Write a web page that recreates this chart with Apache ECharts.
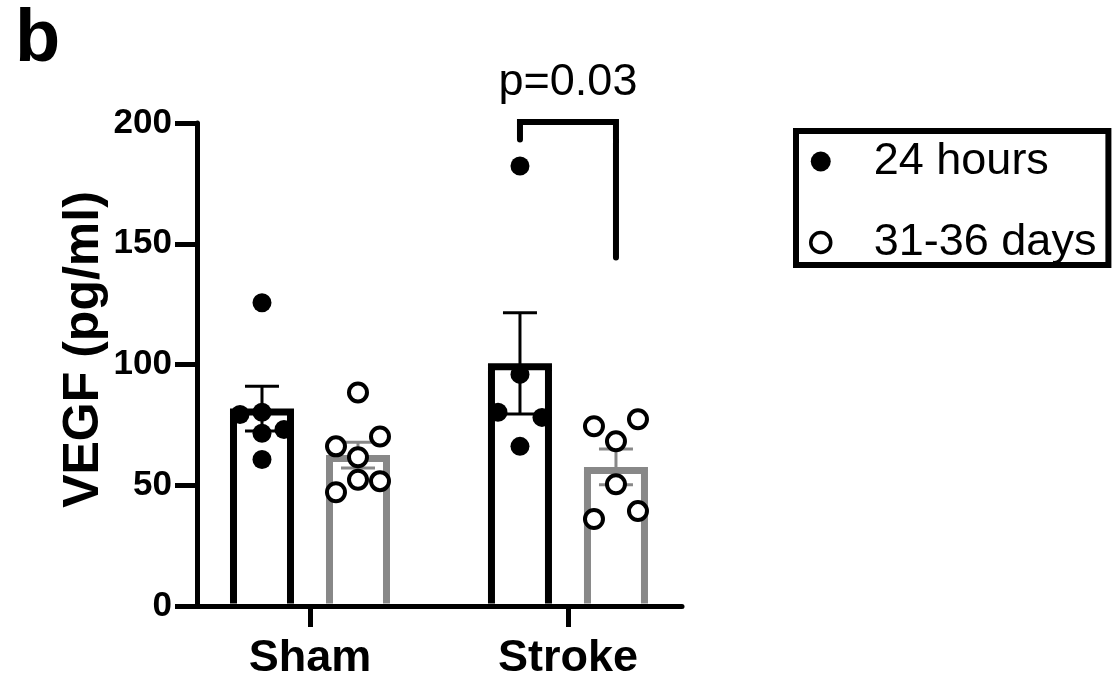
<!DOCTYPE html>
<html>
<head>
<meta charset="utf-8">
<script src="https://cdn.jsdelivr.net/npm/echarts@6/dist/echarts.min.js"></script>
<style>
  html, body { margin: 0; padding: 0; background: #ffffff; }
  #chart { width: 1113px; height: 681px; }
</style>
</head>
<body>
<div id="chart"></div>
<script>
// ---- data -------------------------------------------------------------
const groups = ['Sham', 'Stroke'];
const seriesNames = ['24 hours', '31-36 days'];
const yTicks = [0, 50, 100, 150, 200];

// individual VEGF measurements (pg/ml)
const sham24h   = [125.6, 73.1, 79.3, 80.2, 71.5, 60.7];
const sham31d   = [88.4, 70.2, 66.1, 61.6, 51.7, 47.1, 52.3];
const stroke24h = [182.2, 95.9, 78.1, 80.2, 66.1];
const stroke31d = [77.3, 74.4, 68.2, 50.4, 39.3, 36.0];

const pLabel = 'p=0.03';

// ---- layout -----------------------------------------------------------
const FONT = "'Liberation Sans', Arial, Helvetica, sans-serif";
const GRID = { left: 197, top: 123, width: 485, height: 484 };
const X_MIN = -0.438, X_MAX = 1.442;          // group 0 and 1 sit inside this span
const Y_MIN = yTicks[0], Y_MAX = yTicks[yTicks.length - 1];
const BAR_OFFSET = 48;     // px from group centre to each bar centre
const BAR_OUTER = 64;      // outer bar width, px
const BAR_STROKE = 7;
const ERR_W = 3, CAP = 34, AXIS_W = 5;
const SWARM_STEP = 22, SWARM_DIST = 20;
const COLORS = ['#000000', '#888888'];
// comparison bracket (pg/ml): left leg end, top, right leg end
const BRACKET = { left: 193.2, top: 200.4, right: 144.3 };

const unitPx = GRID.width / (X_MAX - X_MIN);
const pxPerY = GRID.height / (Y_MAX - Y_MIN);

const byseries = [[sham24h, stroke24h], [sham31d, stroke31d]];

const mean = a => a.reduce((s, v) => s + v, 0) / a.length;
const sem = a => {
  const m = mean(a);
  return Math.sqrt(a.reduce((s, v) => s + (v - m) * (v - m), 0) / (a.length - 1)) / Math.sqrt(a.length);
};

// Simple beeswarm: place points in order, spread sideways when they would overlap.
function swarm(values) {
  const placed = [];
  const clash = (dx, y, skip) => placed.filter(p => p !== skip && Math.hypot(p.dx - dx, p.y - y) < SWARM_DIST);
  values.forEach(v => {
    const y = v * pxPerY;
    const hits = clash(0, y);
    if (hits.length === 0) { placed.push({ dx: 0, y, v }); return; }
    if (hits.length === 1 && hits[0].dx === 0) {
      const other = hits[0];
      other.dx = SWARM_STEP;
      if (clash(SWARM_STEP, other.y, other).length === 0 && clash(-SWARM_STEP, y).length === 0) {
        placed.push({ dx: -SWARM_STEP, y, v });
        return;
      }
      other.dx = 0;
    }
    for (const dx of [-SWARM_STEP, SWARM_STEP, -2 * SWARM_STEP, 2 * SWARM_STEP]) {
      if (clash(dx, y).length === 0) { placed.push({ dx, y, v }); return; }
    }
    placed.push({ dx: 0, y, v });
  });
  return placed;
}

function barRenderer(s) {
  const side = s === 0 ? -1 : 1;
  const color = COLORS[s];
  return function (params, api) {
    const x = api.value(0), m = api.value(1), e = api.value(2);
    const base = api.coord([x, Y_MIN]);
    const cx = base[0] + side * BAR_OFFSET;
    const half = BAR_OUTER / 2 - BAR_STROKE / 2;
    const yTop = api.coord([x, m])[1] + BAR_STROKE / 2;
    const yBot = base[1] - AXIS_W / 2;
    const eHi = api.coord([x, m + e])[1];
    const eLo = api.coord([x, m - e])[1];
    const line = { stroke: color, lineWidth: ERR_W };
    return {
      type: 'group',
      children: [
        { type: 'rect', shape: { x: cx - half, y: yTop, width: 2 * half, height: yBot - yTop }, style: { fill: '#ffffff' } },
        { type: 'polyline', shape: { points: [[cx - half, yBot], [cx - half, yTop], [cx + half, yTop], [cx + half, yBot]] },
          style: { stroke: color, lineWidth: BAR_STROKE, fill: null, lineJoin: 'miter' } },
        { type: 'line', shape: { x1: cx, y1: eLo, x2: cx, y2: eHi }, style: line },
        { type: 'line', shape: { x1: cx - CAP / 2, y1: eHi, x2: cx + CAP / 2, y2: eHi }, style: line },
        { type: 'line', shape: { x1: cx - CAP / 2, y1: eLo, x2: cx + CAP / 2, y2: eLo }, style: line }
      ]
    };
  };
}

const series = [];
byseries.forEach((vals, s) => {
  series.push({
    name: seriesNames[s],
    type: 'custom',
    renderItem: barRenderer(s),
    clip: false,
    z: 2,
    silent: true,
    encode: { x: 0, y: 1 },
    data: groups.map((g, i) => [i, mean(vals[i]), sem(vals[i])])
  });
});
byseries.forEach((vals, s) => {
  const side = s === 0 ? -1 : 1;
  const pts = [];
  groups.forEach((g, i) => {
    swarm(vals[i]).forEach(p => pts.push([i + (side * BAR_OFFSET + p.dx) / unitPx, p.v]));
  });
  series.push({
    name: seriesNames[s],
    type: 'scatter',
    z: 3,
    symbol: 'circle',
    symbolSize: s === 0 ? 19 : 18,
    itemStyle: s === 0
      ? { color: '#000000', opacity: 1 }
      : { color: '#ffffff', borderColor: '#000000', borderWidth: 4, opacity: 1 },
    emphasis: { disabled: true },
    silent: true,
    data: pts
  });
});

// comparison bracket between the two Stroke bars
series.push({
  type: 'custom',
  z: 4,
  clip: false,
  silent: true,
  data: [[1, BRACKET.top]],
  renderItem: function (params, api) {
    const g = api.value(0);
    const cx = api.coord([g, Y_MIN])[0];
    const xl = cx - BAR_OFFSET, xr = cx + BAR_OFFSET;
    const yt = api.coord([g, BRACKET.top])[1];
    const yl = api.coord([g, BRACKET.left])[1];
    const yr = api.coord([g, BRACKET.right])[1];
    return {
      type: 'group',
      children: [
        { type: 'polyline', shape: { points: [[xl, yl], [xl, yt], [xr, yt], [xr, yr]] },
          style: { stroke: '#000000', lineWidth: 6, fill: null, lineCap: 'round', lineJoin: 'miter' } },
        { type: 'text', x: (xl + xr) / 2, y: yt - 39,
          style: { text: pLabel, fontFamily: FONT, fontSize: 45, fill: '#000000', align: 'center', verticalAlign: 'middle' } }
      ]
    };
  }
});

const chart = echarts.init(document.getElementById('chart'), null, { renderer: 'canvas' });
chart.setOption({
  animation: false,
  backgroundColor: '#ffffff',
  title: {
    text: 'b', left: 15, top: 4, padding: 0,
    textStyle: { fontFamily: FONT, fontSize: 74, fontWeight: 'bold', color: '#000000' }
  },
  legend: {
    orient: 'vertical',
    left: 796, top: 131,
    padding: [8, 12, 0, 13],
    itemGap: 36,
    itemWidth: 20, itemHeight: 20,
    selectedMode: false,
    borderColor: '#000000', borderWidth: 6,
    textStyle: { fontFamily: FONT, fontSize: 45, lineHeight: 40, color: '#000000', padding: [0, 0, 5, 38] },
    data: [
      { name: seriesNames[0], icon: 'circle', itemStyle: { color: '#000000', borderWidth: 0, opacity: 1 } },
      { name: seriesNames[1], icon: 'circle', itemStyle: { color: '#ffffff', borderColor: '#000000', borderWidth: 3.5, opacity: 1 } }
    ]
  },
  grid: { left: GRID.left, top: GRID.top, width: GRID.width, height: GRID.height, containLabel: false },
  xAxis: {
    type: 'value',
    min: X_MIN, max: X_MAX,
    splitLine: { show: false },
    axisLine: { show: true, onZero: false, lineStyle: { color: '#000000', width: AXIS_W } },
    axisTick: { show: true, customValues: [0, 1], length: 21, lineStyle: { color: '#000000', width: 5 } },
    axisLabel: {
      customValues: [0, 1],
      formatter: v => groups[Math.round(v)],
      margin: 30,
      fontFamily: FONT, fontSize: 45, fontWeight: 'bold', color: '#000000'
    }
  },
  yAxis: {
    type: 'value',
    min: Y_MIN, max: Y_MAX, interval: yTicks[1] - yTicks[0],
    name: 'VEGF (pg/ml)',
    nameLocation: 'middle',
    nameRotate: 90,
    nameGap: 88,
    nameTextStyle: { fontFamily: FONT, fontSize: 50, fontWeight: 'bold', color: '#000000', padding: [0, 0, 0, 30] },
    splitLine: { show: false },
    axisLine: { show: true, onZero: false, lineStyle: { color: '#000000', width: AXIS_W } },
    axisTick: { show: true, length: 22, lineStyle: { color: '#000000', width: 5 } },
    axisLabel: { margin: 25, fontFamily: FONT, fontSize: 35, fontWeight: 'bold', color: '#000000' }
  },
  series: series
});
</script>
</body>
</html>
